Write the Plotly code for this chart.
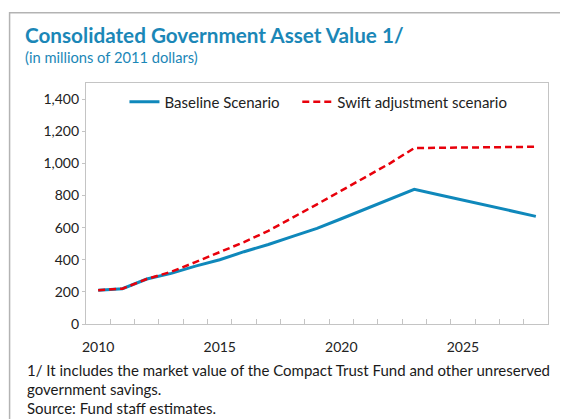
import plotly.graph_objects as go

# values (millions of 2011 dollars)
years = list(range(2010, 2029))
baseline = [210, 220, 280, 315, 360, 400, 450, 495, 545, 595, 655, 715, 775, 838,
            805, 772, 738, 705, 670]
swift = [210, 220, 280, 325, 385, 445, 510, 580, 660, 745, 830, 915, 1000, 1095,
         1097, 1099, 1100, 1101, 1103]
year_labels = [str(y) if y % 5 == 0 else "" for y in years]
y_ticks = [0, 200, 400, 600, 800, 1000, 1200, 1400]

FONT = "Lato"
TEAL = "#1b87b7"
AXIS = "#c4c4c4"

# the page body has an 8px default margin, so the figure is 560x411
# and all the helper positions below are given in window pixels
OFF = 8
FW, FH = 560, 411
L, R, T, B = 77.5, 20, 75, 95
W, H = FW - L - R, FH - T - B


def px_x(x):
    return (x - OFF - L) / W


def px_y(y):
    return (FH - B - (y - OFF)) / H


fig = go.Figure()
fig.add_trace(go.Scatter(x=years, y=baseline, mode="lines", name="Baseline Scenario",
                         line=dict(color="#0f88bb", width=3), legend="legend"))
fig.add_trace(go.Scatter(x=years, y=swift, mode="lines", name="Swift adjustment scenario",
                         line=dict(color="#e8000b", width=2.5, dash="7px,4px"), legend="legend2"))

legend_style = dict(orientation="h", yanchor="middle", xanchor="left",
                    font=dict(size=15, color="#222"), bgcolor="rgba(0,0,0,0)")

fig.update_layout(
    width=FW, height=FH,
    margin=dict(l=L, r=R, t=T, b=B, autoexpand=False),
    paper_bgcolor="white", plot_bgcolor="white",
    font=dict(family=FONT, size=14, color="#222"),
    showlegend=True,
    legend=dict(x=px_x(124), y=px_y(102), **legend_style),
    legend2=dict(x=px_x(297), y=px_y(102), **legend_style),
    xaxis=dict(type="category", tickson="boundaries", tickvals=years, ticktext=year_labels,
               range=[-0.5, len(years) - 0.5], tickangle=0, automargin=False,
               ticks="inside", ticklen=5, tickcolor=AXIS, showline=True, linecolor=AXIS,
               linewidth=1.2, mirror=True, showgrid=False, zeroline=False,
               tickfont=dict(size=14), ticklabelstandoff=10),
    yaxis=dict(range=[0, 1500], tickvals=y_ticks, tickformat=",", ticks="outside", ticklen=3,
               automargin=False,
               tickcolor=AXIS, showline=True, linecolor=AXIS, linewidth=1.2, mirror=True,
               showgrid=False, zeroline=False, tickfont=dict(size=14)),
)

# outer frame of the exhibit
fig.add_shape(type="rect", xref="paper", yref="paper",
              x0=px_x(9), y0=px_y(440), x1=px_x(600), y1=px_y(12.7),
              line=dict(color="#b3b3b3", width=1.5), fillcolor="rgba(0,0,0,0)", layer="below")

fig.add_annotation(text="<b>Consolidated Government Asset Value 1/</b>", xref="paper", yref="paper",
                   x=px_x(22), y=px_y(35), xanchor="left", yanchor="middle", showarrow=False,
                   font=dict(family=FONT, size=20.7, color=TEAL))
fig.add_annotation(text="(in millions of 2011 dollars)", xref="paper", yref="paper",
                   x=px_x(22), y=px_y(57), xanchor="left", yanchor="middle", showarrow=False,
                   font=dict(family=FONT, size=14.7, color=TEAL))

notes = [
    "1/ It includes the market value of the Compact Trust Fund and other unreserved",
    "government savings.",
    "Source: Fund staff estimates.",
]
for i, line in enumerate(notes):
    fig.add_annotation(text=line, xref="paper", yref="paper",
                       x=px_x(24), y=px_y(370 + 19 * i), xanchor="left", yanchor="middle",
                       showarrow=False, font=dict(family=FONT, size=15, color="#1a1a1a"))

fig.write_html("out.html")
